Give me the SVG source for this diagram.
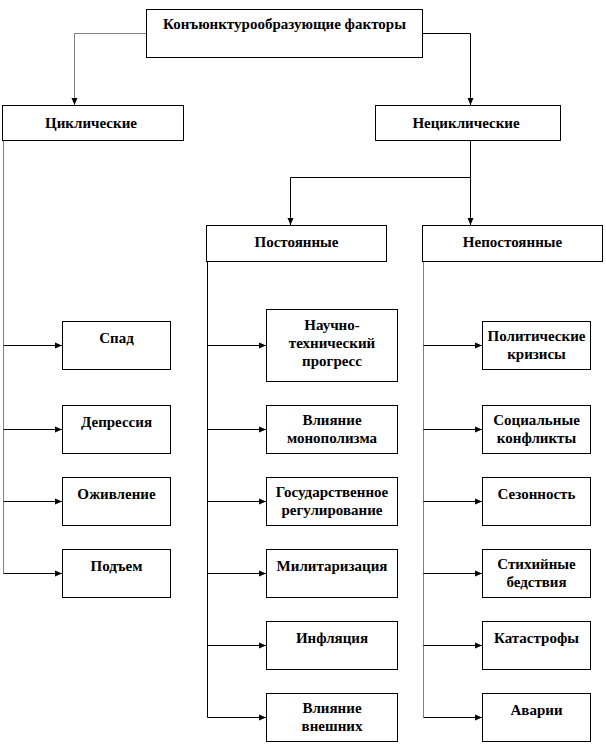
<svg xmlns="http://www.w3.org/2000/svg" width="606" height="744" viewBox="0 0 606 744">
<style>
.box{fill:#fff;stroke:#000;stroke-width:1}
.t{font-family:'Liberation Serif','DejaVu Serif',serif;font-weight:bold;font-size:15px;fill:#000;text-anchor:middle}
.c{fill:none;stroke:#000;stroke-width:1}
.g{stroke:#808080}
</style>
<defs>
<marker id="a" markerWidth="8" markerHeight="8" refX="7" refY="4" orient="auto" markerUnits="userSpaceOnUse">
<path d="M0,1 L7,4 L0,7 Z" fill="#000"/>
</marker>
</defs>
<g id="connectors">
<path class="c g" d="M146.5,33.5 H74.5 V105" marker-end="url(#a)"/>
<path class="c" d="M422.5,33.5 H470.5 V105" marker-end="url(#a)"/>
<path class="c" d="M470.5,141 V177.5 H290.5 V225" marker-end="url(#a)"/>
<path class="c" d="M470.5,177.5 V225" marker-end="url(#a)"/>
<path class="c g" d="M3.5,141 V573.5"/>
<path class="c" d="M3.5,345.5 H62" marker-end="url(#a)"/>
<path class="c" d="M3.5,429.5 H62" marker-end="url(#a)"/>
<path class="c" d="M3.5,501.5 H62" marker-end="url(#a)"/>
<path class="c" d="M3.5,573.5 H62" marker-end="url(#a)"/>
<path class="c" d="M207.5,261 V717.5"/>
<path class="c" d="M207.5,345.5 H266" marker-end="url(#a)"/>
<path class="c" d="M207.5,429.5 H266" marker-end="url(#a)"/>
<path class="c" d="M207.5,501.5 H266" marker-end="url(#a)"/>
<path class="c" d="M207.5,573.5 H266" marker-end="url(#a)"/>
<path class="c" d="M207.5,645.5 H266" marker-end="url(#a)"/>
<path class="c" d="M207.5,717.5 H266" marker-end="url(#a)"/>
<path class="c g" d="M423.5,261 V717.5"/>
<path class="c" d="M423.5,345.5 H482" marker-end="url(#a)"/>
<path class="c" d="M423.5,429.5 H482" marker-end="url(#a)"/>
<path class="c" d="M423.5,501.5 H482" marker-end="url(#a)"/>
<path class="c" d="M423.5,573.5 H482" marker-end="url(#a)"/>
<path class="c" d="M423.5,645.5 H482" marker-end="url(#a)"/>
<path class="c" d="M423.5,717.5 H482" marker-end="url(#a)"/>
</g>
<g id="root"><rect class="box" x="146.5" y="9.5" width="276" height="48"/><text class="t" x="284.5" y="29">Конъюнктурообразующие  факторы</text></g>
<g id="cyc"><rect class="box" x="2.5" y="105.5" width="181" height="35"/><text class="t" x="91" y="128">Циклические</text></g>
<g id="noncyc"><rect class="box" x="375.5" y="105.5" width="185" height="35"/><text class="t" x="466" y="128">Нециклические</text></g>
<g id="const"><rect class="box" x="206.5" y="225.5" width="180" height="36"/><text class="t" x="296.5" y="247">Постоянные</text></g>
<g id="nonconst"><rect class="box" x="422.5" y="225.5" width="180" height="36"/><text class="t" x="512.5" y="247">Непостоянные</text></g>
<g id="spad"><rect class="box" x="62.5" y="321.5" width="108" height="48"/><text class="t" x="116.5" y="343">Спад</text></g>
<g id="depr"><rect class="box" x="62.5" y="405.5" width="108" height="48"/><text class="t" x="116.5" y="427">Депрессия</text></g>
<g id="ozhiv"><rect class="box" x="62.5" y="477.5" width="108" height="48"/><text class="t" x="116.5" y="499">Оживление</text></g>
<g id="podem"><rect class="box" x="62.5" y="549.5" width="108" height="48"/><text class="t" x="116.5" y="571">Подъем</text></g>
<g id="ntp"><rect class="box" x="266.5" y="309.5" width="131" height="72"/><text class="t" x="332" y="330">Научно-<tspan x="332" dy="18">технический</tspan><tspan x="332" dy="18">прогресс</tspan></text></g>
<g id="monop"><rect class="box" x="266.5" y="405.5" width="131" height="48"/><text class="t" x="332" y="425">Влияние<tspan x="332" dy="18">монополизма</tspan></text></g>
<g id="gos"><rect class="box" x="266.5" y="477.5" width="131" height="48"/><text class="t" x="332" y="497">Государственное<tspan x="332" dy="18">регулирование</tspan></text></g>
<g id="milit"><rect class="box" x="266.5" y="549.5" width="131" height="48"/><text class="t" x="332" y="571">Милитаризация</text></g>
<g id="infl"><rect class="box" x="266.5" y="621.5" width="131" height="48"/><text class="t" x="332" y="643">Инфляция</text></g>
<g id="vnesh"><rect class="box" x="266.5" y="693.5" width="131" height="48"/><text class="t" x="332" y="713">Влияние<tspan x="332" dy="18">внешних</tspan></text></g>
<g id="polit"><rect class="box" x="482.5" y="321.5" width="108" height="48"/><text class="t" x="536.5" y="341">Политические<tspan x="536.5" dy="18">кризисы</tspan></text></g>
<g id="soc"><rect class="box" x="482.5" y="405.5" width="108" height="48"/><text class="t" x="536.5" y="425">Социальные<tspan x="536.5" dy="18">конфликты</tspan></text></g>
<g id="sez"><rect class="box" x="482.5" y="477.5" width="108" height="48"/><text class="t" x="536.5" y="499">Сезонность</text></g>
<g id="stih"><rect class="box" x="482.5" y="549.5" width="108" height="48"/><text class="t" x="536.5" y="569">Стихийные<tspan x="536.5" dy="18">бедствия</tspan></text></g>
<g id="katas"><rect class="box" x="482.5" y="621.5" width="108" height="48"/><text class="t" x="536.5" y="643">Катастрофы</text></g>
<g id="avar"><rect class="box" x="482.5" y="693.5" width="108" height="48"/><text class="t" x="536.5" y="715">Аварии</text></g>
</svg>
